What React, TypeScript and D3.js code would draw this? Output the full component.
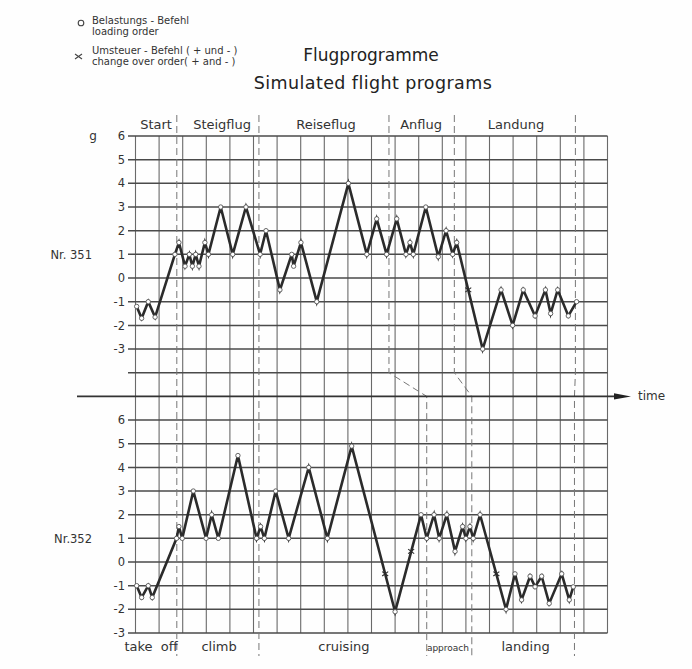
import React from "react";
import * as d3 from "d3";

// ---- Data (time in grid units 0..20, load factor g) ----
const prog351Time = [0.05, 0.26, 0.54, 0.83, 1.67, 1.84, 2.1, 2.28, 2.41, 2.55, 2.69, 2.94, 3.09, 3.61, 4.12, 4.68, 5.28, 5.53, 6.12, 6.62, 6.7, 7.01, 7.68, 9.02, 9.8, 10.22, 10.64, 11.07, 11.46, 11.63, 11.77, 12.3, 12.83, 13.16, 13.44, 13.61, 14.71, 15.49, 15.98, 16.43, 16.93, 17.37, 17.59, 17.89, 18.34, 18.69];
const prog351Load = [-1.2, -1.7, -1.0, -1.65, 1.0, 1.5, 0.5, 1.0, 0.5, 1.0, 0.5, 1.5, 1.0, 3.0, 1.0, 3.0, 1.0, 2.0, -0.5, 1.0, 0.5, 1.5, -1.0, 4.0, 1.0, 2.5, 1.0, 2.5, 1.0, 1.5, 1.0, 3.0, 0.9, 2.0, 1.0, 1.5, -3.0, -0.5, -2.0, -0.5, -1.6, -0.5, -1.5, -0.5, -1.6, -1.0];
const prog351CrossTime = [14.1];
const prog351CrossLoad = [-0.5];

const prog352Time = [0.05, 0.26, 0.54, 0.71, 1.74, 1.84, 1.98, 2.45, 2.99, 3.23, 3.51, 4.34, 5.13, 5.3, 5.46, 5.94, 6.49, 7.34, 8.13, 9.16, 11.0, 12.1, 12.34, 12.65, 12.87, 13.19, 13.54, 13.86, 14.0, 14.17, 14.31, 14.6, 15.7, 16.08, 16.36, 16.72, 16.93, 17.21, 17.53, 18.06, 18.38, 18.55];
const prog352Load = [-1.0, -1.5, -1.0, -1.5, 1.0, 1.5, 1.0, 3.0, 1.0, 2.0, 1.0, 4.5, 1.0, 1.5, 1.0, 3.0, 1.0, 4.0, 1.0, 4.9, -2.1, 2.0, 1.0, 2.0, 1.0, 2.0, 0.45, 1.5, 1.0, 1.5, 1.0, 2.0, -2.0, -0.5, -1.6, -0.6, -1.05, -0.6, -1.75, -0.5, -1.6, -1.05];
const prog352CrossTime = [10.58, 11.68, 15.29];
const prog352CrossLoad = [-0.5, 0.45, -0.5];

const topTicks = [6, 5, 4, 3, 2, 1, 0, -1, -2, -3];
const bottomTicks = [6, 5, 4, 3, 2, 1, 0, -1, -2, -3];

const topPhaseNames = ["Start", "Steigflug", "Reiseflug", "Anflug", "Landung"];
const topPhaseCenters = [0.87, 3.67, 8.07, 12.1, 16.12];
const bottomPhaseNames = ["take off", "climb", "cruising", "approach", "landing"];
const bottomPhaseCenters = [0.66, 3.54, 8.83, 13.24, 16.53];
const topPhaseBounds = [1.75, 5.23, 10.74, 13.51, 18.64];
const bottomPhaseBounds = [1.75, 5.23, 12.34, 14.25, 18.6];

const W = 692, H = 669;
const FONT = "'DejaVu Sans', sans-serif";
const INK = "#2b2b2b";

export default function App() {
  const x = d3.scaleLinear().domain([0, 20]).range([135.5, 607.5]);
  const yTop = d3.scaleLinear().domain([-5, 6]).range([396.4, 136]);
  const yBot = d3.scaleLinear().domain([-3, 7]).range([633, 396.4]);
  const axisY = yTop(-5);

  const lineTop = d3.line<number>().x((_, i) => x(prog351Time[i])).y((d) => yTop(d));
  const lineBot = d3.line<number>().x((_, i) => x(prog352Time[i])).y((d) => yBot(d));

  const vCols = d3.range(0, 21);
  const topRows = d3.range(-4, 7);
  const botRows = d3.range(-3, 7);

  const cross = (cx: number, cy: number, k: string) => (
    <g key={k} stroke={INK} strokeWidth={1.1}>
      <line x1={cx - 3} y1={cy - 2.2} x2={cx + 3} y2={cy + 2.2} />
      <line x1={cx - 3} y1={cy + 2.2} x2={cx + 3} y2={cy - 2.2} />
    </g>
  );

  return (
    <svg width={W} height={H} style={{ position: "absolute", left: 0, top: 0, background: "#fefefe" }} fontFamily={FONT}>
      <rect x={0} y={0} width={W} height={H} fill="#fefefe" />
      {/* Legend */}
      <circle cx={81} cy={23} r={2.8} fill="#fff" stroke="#444" strokeWidth={1.1} />
      <text x={92} y={24} fontSize={10} fill="#333">Belastungs - Befehl</text>
      <text x={92} y={35} fontSize={10} fill="#333">loading order</text>
      <g stroke="#444" strokeWidth={1.1}>
        <line x1={75} y1={54} x2={82} y2={59} />
        <line x1={75} y1={59} x2={82} y2={54} />
      </g>
      <text x={92} y={54} fontSize={10} fill="#333">Umsteuer - Befehl ( + und - )</text>
      <text x={92} y={65} fontSize={10} fill="#333">change over order( + and - )</text>

      {/* Titles */}
      <text x={371} y={61} fontSize={17} textAnchor="middle" fill="#222">Flugprogramme</text>
      <text x={373} y={89} fontSize={17.5} textAnchor="middle" fill="#222" letterSpacing={0.4}>Simulated flight programs</text>

      {/* Vertical grid */}
      {vCols.map((c) => (
        <line key={"v" + c} x1={x(c)} x2={x(c)} y1={136} y2={633} stroke="#6a6a6a" strokeWidth={1.1} />
      ))}
      {/* Horizontal grid top */}
      {topRows.map((r) => (
        <line key={"ht" + r} x1={128} x2={x(20)} y1={yTop(r)} y2={yTop(r)} stroke="#4a4a4a" strokeWidth={1.5} />
      ))}
      {botRows.map((r) => (
        <line key={"hb" + r} x1={128} x2={x(20)} y1={yBot(r)} y2={yBot(r)} stroke="#4a4a4a" strokeWidth={1.5} />
      ))}

      {/* Phase separators */}
      {topPhaseBounds.map((b, i) => {
        const bb = bottomPhaseBounds[i];
        return (
          <g key={"ph" + i} stroke="#777" strokeWidth={1} strokeDasharray="7,4" fill="none">
            <path d={`M${x(b)},115 L${x(b)},${yTop(-4)} L${x(bb)},${axisY} L${x(bb)},656`} />
          </g>
        );
      })}

      {/* Time axis */}
      <line x1={77} x2={617} y1={axisY} y2={axisY} stroke="#333" strokeWidth={1.8} />
      <path d={`M614,${axisY - 3.2} L631,${axisY} L614,${axisY + 3.2} Z`} fill="#222" />
      <text x={638} y={axisY + 4} fontSize={12} fill="#333">time</text>

      {/* Tick labels */}
      {topTicks.map((t) => (
        <text key={"tt" + t} x={125} y={yTop(t)} dy="0.36em" fontSize={11.5} textAnchor="end" fill="#333">{t}</text>
      ))}
      {bottomTicks.map((t) => (
        <text key={"tb" + t} x={125} y={yBot(t)} dy="0.36em" fontSize={11.5} textAnchor="end" fill="#333">{t}</text>
      ))}
      <text x={93} y={yTop(6)} dy="0.3em" fontSize={12} textAnchor="middle" fill="#333">g</text>
      <text x={92} y={yTop(1)} dy="0.36em" fontSize={11.5} textAnchor="end" fill="#333">Nr. 351</text>
      <text x={92} y={yBot(1)} dy="0.36em" fontSize={11.5} textAnchor="end" fill="#333">Nr.352</text>

      {/* Phase labels */}
      {topPhaseNames.map((n, i) => (
        <text key={"pn" + i} x={x(topPhaseCenters[i])} y={129} fontSize={13} textAnchor="middle" fill="#333">{n}</text>
      ))}
      {bottomPhaseNames.map((n, i) => (
        <text key={"bn" + i} x={x(bottomPhaseCenters[i])} y={651} fontSize={n === "approach" ? 9 : 13} textAnchor="middle" fill="#333" wordSpacing={n === "take off" ? 4 : 0}>{n}</text>
      ))}

      {/* Programme lines */}
      <path d={lineTop(prog351Load) || ""} fill="none" stroke={INK} strokeWidth={2.6} strokeLinejoin="miter" />
      <path d={lineBot(prog352Load) || ""} fill="none" stroke={INK} strokeWidth={2.6} strokeLinejoin="miter" />

      {/* Loading order markers */}
      {prog351Load.map((v, i) => (
        <circle key={"m1" + i} cx={x(prog351Time[i])} cy={yTop(v)} r={2.2} fill="#fff" stroke="#555" strokeWidth={0.9} />
      ))}
      {prog352Load.map((v, i) => (
        <circle key={"m2" + i} cx={x(prog352Time[i])} cy={yBot(v)} r={2.2} fill="#fff" stroke="#555" strokeWidth={0.9} />
      ))}
      {/* Change-over markers */}
      {prog351CrossLoad.map((v, i) => cross(x(prog351CrossTime[i]), yTop(v), "c1" + i))}
      {prog352CrossLoad.map((v, i) => cross(x(prog352CrossTime[i]), yBot(v), "c2" + i))}
    </svg>
  );
}
